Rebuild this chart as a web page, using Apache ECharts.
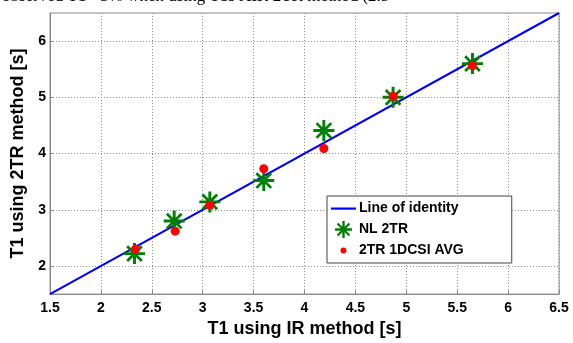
<!DOCTYPE html>
<html>
<head>
<meta charset="utf-8">
<script src="https://cdn.jsdelivr.net/npm/echarts@6/dist/echarts.min.js"></script>
<style>
  html, body { margin: 0; padding: 0; background: #fff; }
  #chart { width: 573px; height: 343px; }
</style>
</head>
<body>
<div id="chart"></div>
<script>
// identity line end points
var identityX = [1.5, 6.5];

// NL 2TR (green asterisks)
var nlX = [2.33, 2.72, 3.07, 3.60, 4.19, 4.87, 5.65];
var nlY = [2.22, 2.80, 3.14, 3.52, 4.41, 5.00, 5.60];

// 2TR 1DCSI AVG (red dots)
var avgX = [2.34, 2.73, 3.07, 3.60, 4.19, 4.87, 5.65];
var avgY = [2.30, 2.62, 3.08, 3.73, 4.09, 5.02, 5.56];

// y tick labels
var yTicks = [2, 3, 4, 5, 6];

var starPath = 'path://M0,8.6 L20,8.6 L20,11.4 L0,11.4 Z ' +
  'M8.6,0 L11.4,0 L11.4,20 L8.6,20 Z ' +
  'M3.92,2.08 L17.92,16.08 L16.08,17.92 L2.08,3.92 Z ' +
  'M16.08,2.08 L17.92,3.92 L3.92,17.92 L2.08,16.08 Z';
var dotIcon = 'path://M0,0 M20,20 M10,6.5 A3.5,3.5 0 1 1 10,13.5 A3.5,3.5 0 1 1 10,6.5 Z';
var lineIcon = 'path://M0,0 M25,17 M0,7.5 L25,7.5 L25,9.7 L0,9.7 Z';

function pairs(xs, ys) {
  return xs.map(function (x, i) { return [x, ys[i]]; });
}

var chart = echarts.init(document.getElementById('chart'));
var boldFont = { fontFamily: 'Arial, "Liberation Sans", sans-serif', fontWeight: 'bold', color: '#000' };
var gridLineStyle = { color: '#8a8a8a', type: [1, 2], width: 1 };

var option = {
  animation: false,
  backgroundColor: '#fff',
  graphic: [{
    type: 'text',
    left: 2,
    top: -12,
    style: {
      text: 'observed T1 <3% when using T1s AIR 2TR method (2.5',
      font: '17px "Liberation Serif", serif',
      fill: '#000'
    }
  }],
  grid: {
    left: 50, right: 14, top: 13, bottom: 41,
    show: true,
    borderColor: '#8a8a8a',
    borderWidth: 1
  },
  xAxis: {
    type: 'value',
    min: 1.5, max: 6.5, interval: 0.5,
    name: 'T1 using IR method [s]',
    nameLocation: 'middle',
    nameGap: 24,
    nameTextStyle: Object.assign({ fontSize: 18 }, boldFont),
    axisLine: { show: true, lineStyle: { color: '#8a8a8a' } },
    axisTick: { show: true, inside: true, length: 4, lineStyle: { color: '#8a8a8a' } },
    axisLabel: Object.assign({ fontSize: 14, margin: 7 }, boldFont),
    splitLine: { show: true, lineStyle: gridLineStyle }
  },
  yAxis: {
    type: 'value',
    min: 1.5, max: 6.5,
    name: 'T1 using 2TR method [s]',
    nameLocation: 'middle',
    nameGap: 17,
    nameRotate: 90,
    nameTextStyle: Object.assign({ fontSize: 18 }, boldFont),
    axisLine: { show: true, lineStyle: { color: '#8a8a8a' } },
    axisTick: { show: true, inside: true, length: 4, customValues: yTicks, lineStyle: { color: '#8a8a8a' } },
    axisLabel: Object.assign({ fontSize: 14, margin: 4, customValues: yTicks }, boldFont),
    splitLine: { show: false }
  },
  legend: {
    orient: 'vertical',
    left: 327, top: 196,
    padding: [4, 48, 4, 4],
    itemGap: 4,
    itemWidth: 25,
    itemHeight: 17,
    backgroundColor: '#fff',
    borderColor: '#444',
    borderWidth: 1,
    borderRadius: 0,
    textStyle: Object.assign({ fontSize: 14, padding: [0, 0, 0, -2] }, boldFont),
    data: [
      { name: 'Line of identity', icon: lineIcon },
      { name: 'NL 2TR', icon: starPath },
      { name: '2TR 1DCSI AVG', icon: dotIcon }
    ]
  },
  series: [
    {
      name: 'Line of identity',
      type: 'line',
      data: pairs(identityX, identityX),
      symbol: 'none',
      lineStyle: { color: '#0000ff', width: 2 },
      itemStyle: { color: '#0000ff' },
      z: 2,
      // horizontal dotted grid lines at the labelled y ticks
      markLine: {
        silent: true,
        symbol: 'none',
        label: { show: false },
        lineStyle: gridLineStyle,
        emphasis: { disabled: true },
        z: 0,
        data: yTicks.map(function (v) { return { yAxis: v }; })
      }
    },
    {
      name: 'NL 2TR',
      type: 'scatter',
      data: pairs(nlX, nlY),
      symbol: starPath,
      symbolSize: 21,
      itemStyle: { color: '#008000', opacity: 1 },
      z: 3
    },
    {
      name: '2TR 1DCSI AVG',
      type: 'scatter',
      data: pairs(avgX, avgY),
      symbol: 'circle',
      symbolSize: 9,
      itemStyle: { color: '#ff0000', opacity: 1 },
      z: 4
    }
  ]
};

chart.setOption(option);
</script>
</body>
</html>
